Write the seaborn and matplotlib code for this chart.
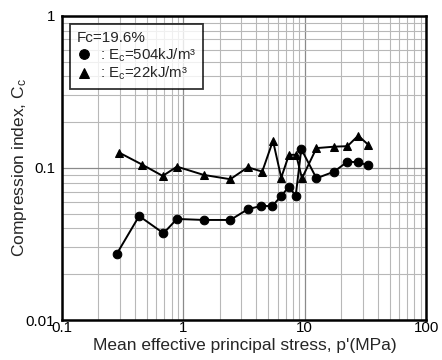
import matplotlib
matplotlib.use("Agg")
import matplotlib.pyplot as plt
import seaborn as sns
import pandas as pd
from matplotlib.ticker import FixedLocator, FixedFormatter, NullFormatter, LogLocator

# Data
p_high = [0.283, 0.433, 0.687, 0.887, 1.47, 2.44, 3.40, 4.33, 5.41, 6.41, 7.42, 8.43, 9.38, 12.5, 17.5, 22.5, 27.6, 33.4]
cc_high = [0.0272, 0.0483, 0.0372, 0.0462, 0.0455, 0.0455, 0.0535, 0.0562, 0.0562, 0.0654, 0.0754, 0.0654, 0.133, 0.0855, 0.0946, 0.110, 0.109, 0.104]
p_low = [0.297, 0.46, 0.677, 0.887, 1.47, 2.44, 3.40, 4.47, 5.48, 6.41, 7.42, 8.5, 9.5, 12.5, 17.5, 22.5, 27.6, 33.4]
cc_low = [0.126, 0.105, 0.0886, 0.102, 0.090, 0.0843, 0.101, 0.0946, 0.151, 0.0863, 0.122, 0.122, 0.0855, 0.135, 0.138, 0.139, 0.163, 0.142]
series_labels = [": E$_c$=504kJ/m³", ": E$_c$=22kJ/m³"]
legend_title = "Fc=19.6%"
x_ticks = [0.1, 1, 10, 100]
x_ticklabels = ["0.1", "1", "10", "100"]
y_ticks = [0.01, 0.1, 1]
y_ticklabels = ["0.01", "0.1", "1"]

df = pd.concat([
    pd.DataFrame({"p": p_high, "cc": cc_high, "s": series_labels[0]}),
    pd.DataFrame({"p": p_low, "cc": cc_low, "s": series_labels[1]}),
], ignore_index=True)

sns.set_style("white")
plt.rcParams["font.family"] = ["Liberation Sans", "DejaVu Sans"]
plt.rcParams["mathtext.fontset"] = "custom"
plt.rcParams["mathtext.rm"] = "Liberation Sans"
plt.rcParams["mathtext.it"] = "Liberation Sans"

fig = plt.figure(figsize=(4.42, 3.6), dpi=100)
ax = fig.add_axes([0.140, 0.111, 0.824, 0.845])

sns.lineplot(data=df, x="p", y="cc", hue="s", style="s",
             palette=["black", "black"], markers=["o", "^"], dashes=False,
             sort=False, estimator=None, ax=ax,
             markersize=6.2, linewidth=1.4, markeredgecolor="black")

ax.set_xscale("log")
ax.set_yscale("log")
ax.set_xlim(0.1, 100)
ax.set_ylim(0.01, 1)

ax.xaxis.set_major_locator(FixedLocator(x_ticks))
ax.xaxis.set_major_formatter(FixedFormatter(x_ticklabels))
ax.yaxis.set_major_locator(FixedLocator(y_ticks))
ax.yaxis.set_major_formatter(FixedFormatter(y_ticklabels))
ax.xaxis.set_minor_locator(LogLocator(base=10, subs=range(2, 10)))
ax.yaxis.set_minor_locator(LogLocator(base=10, subs=range(2, 10)))
ax.xaxis.set_minor_formatter(NullFormatter())
ax.yaxis.set_minor_formatter(NullFormatter())

ax.grid(True, which="major", color="#8a8a8a", linewidth=0.9)
ax.grid(True, which="minor", color="#b8b8b8", linewidth=0.8)
ax.set_axisbelow(True)
ax.tick_params(which="both", length=0, labelsize=10.8, colors="black")
ax.tick_params(axis="x", pad=0.5)
ax.tick_params(axis="y", pad=5)

for sp in ax.spines.values():
    sp.set_color("black")
    sp.set_linewidth(1.8)

ax.set_xlabel("Mean effective principal stress, p'(MPa)", fontsize=12.5)
ax.set_ylabel("Compression index, C$_c$", fontsize=12.5)
ax.xaxis.set_label_coords(0.501, -0.058)
ax.yaxis.set_label_coords(-0.09, 0.5)

leg = ax.legend(title=legend_title, loc="upper left", bbox_to_anchor=(0.014, 0.982),
                frameon=True, fancybox=False, fontsize=10.8, title_fontsize=11,
                borderpad=0.45, labelspacing=0.08, handlelength=1.0, handletextpad=0.55,
                edgecolor="black", borderaxespad=0.2)
leg._legend_box.align = "left"
leg.get_frame().set_linewidth(1.3)
for h in leg.legend_handles:
    h.set_linestyle("")
    h.set_markersize(7)

fig.savefig("out.png", dpi=100)
